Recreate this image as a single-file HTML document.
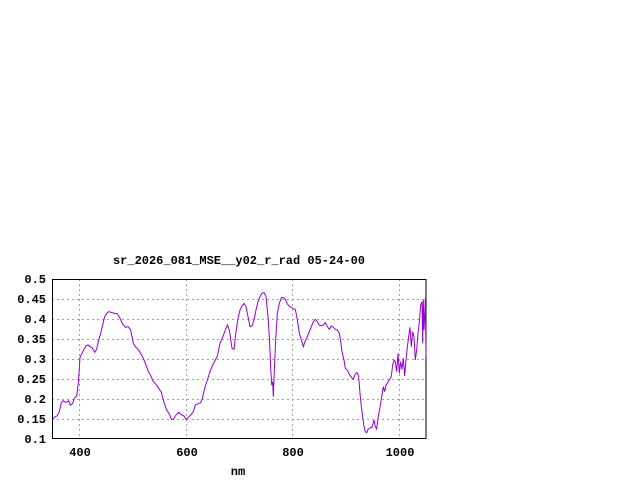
<!DOCTYPE html>
<html><head><style>body{margin:0;background:#fff}svg{display:block}text{font-family:"Liberation Mono",monospace;font-size:12px;font-weight:bold;fill:#000}</style></head><body>
<svg width="640" height="480" xmlns="http://www.w3.org/2000/svg">
<g stroke="#a0a0a0" stroke-width="1" stroke-dasharray="2,3">
<line x1="52" y1="299.5" x2="426" y2="299.5"/><line x1="52" y1="319.5" x2="426" y2="319.5"/><line x1="52" y1="339.5" x2="426" y2="339.5"/><line x1="52" y1="359.5" x2="426" y2="359.5"/><line x1="52" y1="379.5" x2="426" y2="379.5"/><line x1="52" y1="399.5" x2="426" y2="399.5"/><line x1="52" y1="419.5" x2="426" y2="419.5"/>
<line x1="79.5" y1="279" x2="79.5" y2="438"/><line x1="186.5" y1="279" x2="186.5" y2="438"/><line x1="292.5" y1="279" x2="292.5" y2="438"/><line x1="399.5" y1="279" x2="399.5" y2="438"/>
</g>
<rect x="52.5" y="279.5" width="373.5" height="159" fill="none" stroke="#000"/>
<g text-anchor="end">
<text x="46" y="283">0.5</text><text x="46" y="303">0.45</text><text x="46" y="323">0.4</text><text x="46" y="343">0.35</text><text x="46" y="363">0.3</text><text x="46" y="383">0.25</text><text x="46" y="403">0.2</text><text x="46" y="423">0.15</text><text x="46" y="443">0.1</text>
</g>
<g text-anchor="middle">
<text x="80" y="456">400</text><text x="187" y="456">600</text><text x="293" y="456">800</text><text x="400" y="456">1000</text>
<text x="238" y="475">nm</text>
<text x="239" y="264">sr_2026_081_MSE__y02_r_rad 05-24-00</text>
</g>
<g transform="translate(0,250) scale(0.333333)">
<polyline fill="none" stroke="#9400d3" stroke-width="1" vector-effect="non-scaling-stroke" points="157,508 163,502 172,497 178,485 184,458 190,452 196,457 203,455 206,452 211,466 218,460 223,445 230,438 235,400 240,322 246,310 252,298 258,287 264,285 270,290 276,293 284,307 290,297 296,270 302,250 308,225 314,200 320,190 326,185 334,187 343,190 352,191 360,205 368,222 376,232 384,230 392,240 400,280 406,290 414,298 422,310 430,325 438,345 445,365 452,377 460,395 468,403 476,415 484,427 492,458 500,480 508,492 514,508 520,508 528,495 536,487 544,494 552,498 558,508 564,503 572,495 580,485 586,465 594,461 602,458 606,448 614,415 622,390 630,365 638,345 646,330 652,318 660,280 668,262 676,240 682,225 688,240 696,295 702,298 708,245 714,205 720,180 726,168 732,160 738,170 744,200 750,230 756,228 762,210 768,180 774,155 780,140 786,130 792,128 798,140 804,200 808,260 812,350 815,405 818,395 820,440 823,360 827,270 832,190 838,160 844,143 850,143 856,148 862,162 870,170 878,175 886,178 892,210 898,250 904,270 910,290 916,272 922,260 928,245 934,230 940,215 946,208 952,215 958,226 964,227 970,225 976,218 982,230 988,238 994,228 1000,232 1006,238 1012,240 1018,250 1022,275 1026,305 1032,330 1036,355 1042,360 1048,373 1054,382 1060,388 1066,372 1072,368 1076,380 1080,430 1084,470 1088,500 1092,530 1096,545 1100,548 1104,538 1110,534 1116,532 1122,510 1126,530 1130,537 1134,505 1140,472 1146,435 1150,410 1154,425 1158,405 1162,400 1166,392 1170,387 1174,378 1178,345 1182,330 1186,335 1190,365 1194,310 1198,370 1202,335 1206,358 1210,325 1214,378 1218,330 1222,292 1226,260 1230,232 1234,290 1238,245 1242,260 1246,330 1250,300 1254,250 1258,215 1262,165 1266,155 1268,280 1270,150 1272,240 1274,200 1276,145 1278,320"/>
</g>
</svg>
</body></html>
